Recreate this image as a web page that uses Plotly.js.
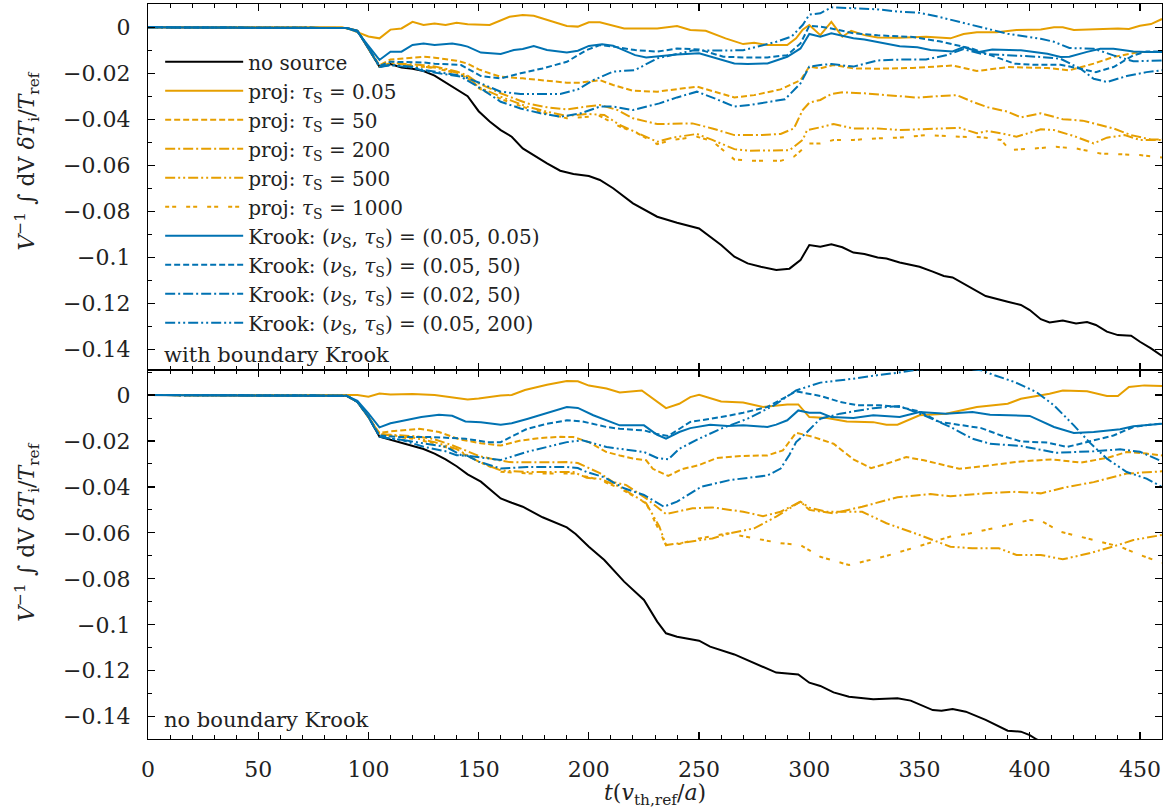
<!DOCTYPE html>
<html><head><meta charset="utf-8">
<script src="https://cdn.plot.ly/plotly-3.0.1.min.js"></script>
<style>html,body{margin:0;padding:0;background:#fff}#plot{width:1172px;height:812px}</style>
</head><body><div id="plot"></div>
<script>
// ---------- legend names ----------
const seriesNames = [
  "no source",
  "proj: <i>τ</i><sub>S</sub> = 0.05",
  "proj: <i>τ</i><sub>S</sub> = 50",
  "proj: <i>τ</i><sub>S</sub> = 200",
  "proj: <i>τ</i><sub>S</sub> = 500",
  "proj: <i>τ</i><sub>S</sub> = 1000",
  "Krook: (<i>ν</i><sub>S</sub>, <i>τ</i><sub>S</sub>) = (0.05, 0.05)",
  "Krook: (<i>ν</i><sub>S</sub>, <i>τ</i><sub>S</sub>) = (0.05, 50)",
  "Krook: (<i>ν</i><sub>S</sub>, <i>τ</i><sub>S</sub>) = (0.02, 50)",
  "Krook: (<i>ν</i><sub>S</sub>, <i>τ</i><sub>S</sub>) = (0.05, 200)"
];
const panelLabels = ["with boundary Krook", "no boundary Krook"];
const xTicks = [0, 50, 100, 150, 200, 250, 300, 350, 400, 450];

// ---------- TOP PANEL (with boundary Krook): [t, value] ----------
const noSourceTop = [[0,0],[85,0],[90,-0.0003],[95,-0.0015],[100,-0.009],[105,-0.0171],[110,-0.016],[115,-0.0175],[120,-0.018],[125,-0.019],[130,-0.021],[135,-0.024],[140,-0.027],[145,-0.030],[150,-0.0365],[155,-0.041],[160,-0.0447],[165,-0.0476],[170,-0.0527],[176,-0.0563],[181,-0.0592],[187,-0.0624],[193,-0.0638],[200,-0.0647],[205,-0.0664],[211,-0.070],[220,-0.0766],[231,-0.0824],[240,-0.085],[250,-0.0875],[260,-0.0947],[266,-0.0998],[272,-0.1027],[278,-0.1042],[285,-0.1056],[291,-0.105],[296,-0.1013],[300,-0.0947],[305,-0.0955],[310,-0.0944],[315,-0.0957],[320,-0.098],[325,-0.0986],[331,-0.1001],[335,-0.1006],[341,-0.1023],[350,-0.1042],[356,-0.1063],[361,-0.1082],[365,-0.1088],[374,-0.1136],[380,-0.1169],[390,-0.1194],[396,-0.1208],[400,-0.123],[405,-0.127],[409,-0.1284],[415,-0.1276],[421,-0.1288],[426,-0.1282],[430,-0.1295],[435,-0.1324],[440,-0.1339],[446,-0.1342],[450,-0.1368],[455,-0.1397],[460,-0.143]];
const proj005Top = [[0,0],[88,0],[92,-0.001],[95,-0.0022],[100,-0.004],[105,-0.0048],[110,-0.001],[115,-0.0005],[120,0.0024],[125,0.001],[130,0.0017],[135,0.001],[140,0.002],[145,0.0013],[150,0.0013],[155,0.001],[164,0.0046],[170,0.0054],[175,0.005],[181,0.0032],[190,0.0006],[195,0.0003],[200,0.0022],[205,0.0022],[216,-0.0005],[231,-0.0005],[240,0.0006],[246,-0.0012],[253,-0.0015],[262,-0.0048],[270,-0.0073],[275,-0.0067],[281,-0.0077],[290,-0.0077],[294,-0.0048],[297,-0.001],[300,0.001],[305,-0.0034],[310,0.0024],[315,-0.0041],[319,-0.0015],[325,-0.0034],[331,-0.0044],[341,-0.0045],[353,-0.0041],[364,-0.0048],[370,-0.0029],[376,-0.0022],[385,-0.0022],[394,-0.0012],[405,-0.0009],[411,0],[415,0],[420,-0.0012],[430,-0.0009],[440,-0.0005],[445,-0.0007],[450,0.0007],[455,0.0014],[460,0.0036]];
const proj50Top = [[0,0],[85,0],[90,-0.0003],[95,-0.0015],[100,-0.009],[105,-0.0165],[110,-0.014],[115,-0.0135],[120,-0.013],[125,-0.0128],[130,-0.0132],[135,-0.0137],[140,-0.0145],[145,-0.0158],[150,-0.0183],[155,-0.02],[160,-0.0215],[170,-0.0222],[180,-0.023],[190,-0.0241],[196,-0.0241],[205,-0.023],[211,-0.0251],[220,-0.0276],[231,-0.028],[240,-0.027],[249,-0.0258],[257,-0.028],[266,-0.0305],[275,-0.0295],[287,-0.027],[296,-0.023],[300,-0.0171],[305,-0.0179],[311,-0.0164],[320,-0.0179],[332,-0.018],[347,-0.0177],[365,-0.0166],[376,-0.019],[390,-0.0173],[408,-0.0177],[418,-0.0187],[429,-0.0158],[438,-0.0129],[450,-0.0107],[460,-0.0107]];
const proj200Top = [[0,0],[85,0],[90,-0.0003],[95,-0.0015],[100,-0.009],[105,-0.0172],[110,-0.0155],[115,-0.0158],[120,-0.016],[125,-0.0165],[130,-0.017],[135,-0.018],[140,-0.0192],[145,-0.021],[150,-0.0244],[160,-0.0287],[172,-0.0331],[181,-0.0348],[190,-0.0357],[199,-0.0345],[205,-0.0338],[213,-0.036],[220,-0.0396],[231,-0.0421],[240,-0.0421],[247,-0.0418],[256,-0.044],[266,-0.0469],[278,-0.0469],[287,-0.0464],[293,-0.044],[297,-0.036],[300,-0.0328],[305,-0.0316],[310,-0.029],[315,-0.0283],[325,-0.0287],[335,-0.0295],[349,-0.0306],[359,-0.0299],[367,-0.0295],[374,-0.0324],[381,-0.0348],[390,-0.0367],[396,-0.0392],[405,-0.0374],[415,-0.04],[424,-0.0406],[432,-0.0425],[438,-0.044],[446,-0.0469],[455,-0.0488],[460,-0.0488]];
const proj500Top = [[0,0],[85,0],[90,-0.0003],[95,-0.0015],[100,-0.009],[105,-0.0172],[110,-0.016],[115,-0.0165],[120,-0.0168],[125,-0.017],[130,-0.0175],[135,-0.0185],[140,-0.0198],[145,-0.0215],[150,-0.026],[160,-0.0302],[172,-0.0345],[181,-0.0367],[190,-0.0386],[199,-0.0377],[207,-0.0381],[214,-0.0425],[222,-0.0461],[231,-0.0498],[238,-0.048],[249,-0.0464],[256,-0.049],[266,-0.053],[273,-0.0537],[287,-0.0537],[291,-0.0535],[297,-0.049],[299,-0.0447],[305,-0.0435],[311,-0.0421],[320,-0.044],[331,-0.044],[341,-0.0447],[353,-0.0444],[368,-0.0437],[376,-0.0461],[381,-0.0451],[387,-0.0461],[394,-0.0476],[405,-0.0444],[411,-0.0447],[420,-0.0473],[429,-0.0505],[435,-0.048],[443,-0.0469],[450,-0.049],[460,-0.049]];
const proj1000Top = [[0,0],[85,0],[90,-0.0003],[95,-0.0015],[100,-0.009],[105,-0.0172],[110,-0.0158],[115,-0.016],[120,-0.0165],[125,-0.017],[130,-0.0178],[135,-0.0188],[140,-0.02],[145,-0.022],[150,-0.0265],[160,-0.0312],[172,-0.0352],[181,-0.0375],[190,-0.0396],[205,-0.0386],[214,-0.0432],[222,-0.0461],[231,-0.0508],[238,-0.049],[249,-0.0476],[256,-0.0495],[266,-0.0575],[275,-0.0581],[287,-0.0581],[293,-0.0563],[300,-0.0505],[305,-0.0505],[311,-0.049],[320,-0.049],[331,-0.0483],[341,-0.048],[353,-0.0469],[368,-0.0476],[378,-0.0478],[387,-0.049],[391,-0.0534],[402,-0.0527],[412,-0.052],[421,-0.0527],[432,-0.0549],[440,-0.0552],[450,-0.0556],[460,-0.0566]];
const krookA_Top = [[0,0],[85,0],[90,-0.0003],[95,-0.002],[100,-0.008],[105,-0.0142],[110,-0.0106],[115,-0.0106],[120,-0.0077],[125,-0.007],[130,-0.0077],[138,-0.007],[142,-0.0077],[145,-0.0084],[151,-0.011],[160,-0.0116],[166,-0.0099],[170,-0.0094],[175,-0.0081],[181,-0.0099],[190,-0.011],[195,-0.0102],[200,-0.0081],[206,-0.0074],[211,-0.008],[221,-0.0121],[226,-0.0131],[232,-0.0125],[240,-0.0118],[250,-0.0113],[257,-0.0131],[266,-0.0157],[272,-0.016],[281,-0.0157],[290,-0.0128],[296,-0.0092],[300,-0.0029],[305,-0.0041],[310,-0.0026],[315,-0.0037],[320,-0.0048],[325,-0.0053],[331,-0.0063],[341,-0.0082],[349,-0.0087],[355,-0.0099],[365,-0.0105],[370,-0.0086],[377,-0.0107],[383,-0.0097],[396,-0.01],[408,-0.0115],[414,-0.0129],[418,-0.0128],[426,-0.0107],[432,-0.0093],[438,-0.0093],[447,-0.0105],[453,-0.0107],[460,-0.0107]];
const krookB_Top = [[0,0],[85,0],[90,-0.0003],[95,-0.0015],[100,-0.009],[105,-0.0168],[110,-0.015],[115,-0.015],[120,-0.015],[125,-0.0153],[130,-0.0158],[135,-0.016],[142,-0.0164],[151,-0.0212],[160,-0.0222],[169,-0.02],[179,-0.0179],[190,-0.015],[199,-0.0099],[205,-0.0077],[211,-0.0084],[221,-0.0099],[231,-0.0106],[240,-0.0092],[250,-0.0096],[261,-0.0128],[270,-0.0131],[281,-0.0131],[290,-0.0121],[296,-0.007],[300,0.0006],[305,0.0003],[310,-0.0005],[320,-0.0026],[331,-0.0035],[347,-0.0042],[359,-0.0061],[374,-0.0093],[382,-0.0119],[393,-0.0158],[402,-0.0163],[414,-0.0163],[423,-0.018],[430,-0.0195],[438,-0.0173],[447,-0.0122],[453,-0.0105],[460,-0.0105]];
const krookC_Top = [[0,0],[85,0],[90,-0.0003],[95,-0.0015],[100,-0.009],[105,-0.0172],[110,-0.0165],[115,-0.017],[120,-0.0175],[125,-0.019],[130,-0.0198],[135,-0.0205],[142,-0.0215],[151,-0.0266],[160,-0.0324],[169,-0.0353],[178,-0.0374],[187,-0.0389],[196,-0.0375],[205,-0.0345],[211,-0.0345],[220,-0.036],[232,-0.0331],[240,-0.0305],[249,-0.028],[257,-0.0309],[266,-0.0345],[273,-0.0338],[281,-0.0324],[289,-0.0313],[296,-0.0244],[300,-0.0171],[305,-0.0164],[310,-0.016],[320,-0.0171],[331,-0.0144],[342,-0.014],[353,-0.014],[362,-0.0122],[370,-0.0095],[378,-0.0115],[393,-0.0122],[405,-0.0129],[414,-0.0137],[423,-0.018],[429,-0.0224],[435,-0.0238],[444,-0.0212],[453,-0.0195],[460,-0.0187]];
const krookD_Top = [[0,0],[85,0],[90,-0.0003],[95,-0.0015],[100,-0.009],[105,-0.0172],[110,-0.0163],[115,-0.0168],[120,-0.0172],[125,-0.0185],[130,-0.0192],[135,-0.02],[142,-0.021],[150,-0.024],[160,-0.028],[169,-0.029],[178,-0.029],[187,-0.029],[195,-0.027],[202,-0.023],[211,-0.0193],[221,-0.0186],[231,-0.0135],[240,-0.0115],[247,-0.0101],[260,-0.0101],[270,-0.01],[285,-0.0063],[292,-0.004],[297,0.001],[300,0.0055],[305,0.0061],[310,0.0087],[320,0.0083],[331,0.0078],[341,0.0068],[350,0.0063],[359,0.0045],[374,0.0009],[390,-0.0028],[405,-0.005],[411,-0.0063],[418,-0.009],[429,-0.0093],[438,-0.0122],[447,-0.0148],[460,-0.0144]];

// ---------- BOTTOM PANEL (no boundary Krook): [t, value] ----------
const noSourceBot = [[0,0],[85,0],[90,-0.0003],[95,-0.003],[100,-0.0095],[105,-0.0181],[110,-0.0195],[115,-0.0207],[120,-0.022],[125,-0.0235],[130,-0.0255],[135,-0.028],[140,-0.031],[145,-0.0345],[151,-0.0377],[160,-0.045],[165,-0.0469],[170,-0.0486],[179,-0.0532],[185,-0.0555],[190,-0.0576],[194,-0.0605],[200,-0.066],[207,-0.0718],[216,-0.0812],[225,-0.0892],[231,-0.0986],[235,-0.1037],[240,-0.1052],[250,-0.1069],[255,-0.1095],[266,-0.1129],[275,-0.1168],[281,-0.1194],[285,-0.1208],[295,-0.1216],[300,-0.1252],[305,-0.1266],[311,-0.1294],[318,-0.1313],[329,-0.1324],[340,-0.132],[346,-0.133],[356,-0.1371],[360,-0.1374],[365,-0.1366],[371,-0.1378],[380,-0.1414],[386,-0.1443],[390,-0.1461],[396,-0.1465],[400,-0.148],[403,-0.1498],[407,-0.152]];
const proj005Bot = [[0,0],[95,0],[100,-0.0007],[105,0.0007],[110,0.0002],[120,0.0004],[130,0],[140,-0.0012],[145,-0.0019],[150,-0.0015],[160,-0.0002],[165,0],[171,0.0022],[181,0.0045],[190,0.0061],[195,0.006],[200,0.0041],[208,0.0028],[214,0.0011],[224,0.002],[231,-0.003],[235,-0.0057],[241,-0.0038],[246,-0.0009],[250,0.0001],[260,-0.0028],[270,-0.0033],[279,-0.0052],[290,-0.0041],[295,-0.0041],[300,-0.0096],[308,-0.01],[317,-0.0115],[329,-0.0118],[335,-0.0129],[340,-0.0129],[350,-0.0088],[362,-0.0081],[376,-0.0052],[390,-0.0038],[396,-0.0016],[409,0.0006],[415,0.002],[426,0.0016],[435,-0.0004],[440,-0.0004],[445,0.0035],[452,0.0042],[460,0.0039]];
const proj50Bot = [[0,0],[85,0],[90,-0.0003],[95,-0.003],[100,-0.0095],[105,-0.0165],[110,-0.0158],[114,-0.0154],[123,-0.0147],[132,-0.0161],[141,-0.0192],[151,-0.021],[160,-0.022],[169,-0.0198],[178,-0.0187],[187,-0.0182],[193,-0.0183],[200,-0.0205],[208,-0.0248],[214,-0.0263],[220,-0.0276],[226,-0.0284],[229,-0.0321],[236,-0.0352],[242,-0.0323],[250,-0.0305],[258,-0.0274],[270,-0.0265],[281,-0.0263],[288,-0.0241],[294,-0.0164],[302,-0.0183],[311,-0.0212],[320,-0.028],[328,-0.0318],[335,-0.0299],[344,-0.027],[352,-0.0284],[368,-0.0321],[382,-0.0306],[396,-0.0289],[410,-0.028],[423,-0.0294],[435,-0.0274],[444,-0.0248],[453,-0.0255],[460,-0.0263]];
const proj200Bot = [[0,0],[85,0],[90,-0.0003],[95,-0.003],[100,-0.0095],[105,-0.017],[110,-0.0172],[114,-0.0175],[122,-0.018],[129,-0.019],[137,-0.0215],[144,-0.0241],[150,-0.0265],[157,-0.028],[164,-0.0292],[172,-0.0293],[181,-0.0292],[190,-0.0292],[195,-0.0296],[205,-0.034],[211,-0.0379],[217,-0.0392],[226,-0.045],[235,-0.0518],[247,-0.0493],[256,-0.0489],[270,-0.0508],[279,-0.0527],[287,-0.0508],[296,-0.0464],[300,-0.05],[311,-0.0515],[324,-0.0486],[340,-0.0445],[355,-0.0431],[364,-0.044],[380,-0.0428],[394,-0.0421],[405,-0.0428],[417,-0.04],[429,-0.0379],[444,-0.0342],[460,-0.0332]];
const proj500Bot = [[0,0],[85,0],[90,-0.0003],[95,-0.003],[100,-0.0095],[105,-0.017],[110,-0.0175],[120,-0.0185],[130,-0.0205],[140,-0.0235],[150,-0.029],[160,-0.0328],[172,-0.0335],[184,-0.0335],[193,-0.0335],[199,-0.036],[205,-0.0365],[214,-0.0399],[226,-0.0471],[232,-0.0573],[235,-0.0653],[241,-0.0645],[256,-0.0624],[264,-0.0602],[275,-0.058],[285,-0.0529],[296,-0.0464],[300,-0.049],[308,-0.0508],[324,-0.0508],[335,-0.0558],[350,-0.0609],[364,-0.066],[374,-0.0667],[386,-0.0667],[394,-0.0696],[405,-0.0696],[415,-0.0715],[427,-0.0689],[440,-0.0653],[447,-0.0631],[460,-0.0609]];
const proj1000Bot = [[0,0],[85,0],[90,-0.0003],[95,-0.003],[100,-0.0095],[105,-0.017],[110,-0.0178],[120,-0.019],[130,-0.021],[140,-0.0243],[150,-0.029],[160,-0.0334],[172,-0.0341],[193,-0.0341],[205,-0.037],[214,-0.0406],[226,-0.0471],[232,-0.0588],[235,-0.0653],[241,-0.0648],[250,-0.0624],[263,-0.0602],[275,-0.0624],[287,-0.0645],[296,-0.0653],[305,-0.0704],[318,-0.074],[334,-0.0703],[349,-0.066],[364,-0.0616],[373,-0.0602],[386,-0.0573],[400,-0.0544],[405,-0.0547],[414,-0.0595],[426,-0.0624],[441,-0.066],[450,-0.0696],[458,-0.0725],[460,-0.073]];
const krookA_Bot = [[0,0],[85,0],[90,-0.0003],[95,-0.0025],[100,-0.008],[105,-0.0141],[110,-0.0123],[114,-0.0115],[120,-0.0102],[124,-0.0096],[132,-0.0086],[138,-0.009],[144,-0.0115],[151,-0.0118],[160,-0.0129],[165,-0.0123],[172,-0.0104],[181,-0.0077],[190,-0.0052],[195,-0.0056],[202,-0.0088],[214,-0.0132],[225,-0.0132],[231,-0.0173],[235,-0.019],[241,-0.0161],[246,-0.0144],[255,-0.0129],[263,-0.0135],[270,-0.0132],[281,-0.0139],[285,-0.0129],[290,-0.011],[295,-0.0067],[300,-0.0077],[305,-0.0077],[310,-0.0096],[320,-0.01],[329,-0.0088],[341,-0.0096],[350,-0.0074],[362,-0.0081],[374,-0.0074],[382,-0.0086],[400,-0.0091],[411,-0.0139],[420,-0.0165],[429,-0.0161],[441,-0.0149],[447,-0.0136],[453,-0.0132],[460,-0.0125]];
const krookB_Bot = [[0,0],[85,0],[90,-0.0003],[95,-0.003],[100,-0.0095],[105,-0.0176],[110,-0.018],[114,-0.0183],[129,-0.0183],[144,-0.019],[154,-0.0205],[160,-0.0205],[166,-0.0176],[172,-0.0147],[181,-0.0125],[190,-0.011],[197,-0.0115],[208,-0.0139],[214,-0.0147],[225,-0.0154],[231,-0.017],[236,-0.0178],[246,-0.0117],[260,-0.0096],[270,-0.0077],[281,-0.0052],[294,0.0016],[305,-0.0004],[314,-0.003],[322,-0.0045],[332,-0.0045],[341,-0.0052],[350,-0.0071],[359,-0.0117],[378,-0.0144],[387,-0.0176],[396,-0.0202],[408,-0.0207],[417,-0.0226],[423,-0.0212],[438,-0.0176],[447,-0.0139],[456,-0.0127],[460,-0.0125]];
const krookC_Bot = [[0,0],[85,0],[90,-0.0003],[95,-0.003],[100,-0.0095],[105,-0.0181],[110,-0.019],[115,-0.0195],[125,-0.0225],[135,-0.0245],[140,-0.0262],[145,-0.0265],[150,-0.029],[160,-0.032],[172,-0.0313],[181,-0.0313],[190,-0.0313],[195,-0.0318],[199,-0.0335],[207,-0.0358],[216,-0.0406],[225,-0.0435],[234,-0.0486],[240,-0.0464],[251,-0.0399],[264,-0.037],[281,-0.035],[287,-0.032],[291,-0.026],[294,-0.0205],[299,-0.0161],[305,-0.0103],[314,-0.0081],[329,-0.0057],[341,-0.0048],[352,-0.0088],[364,-0.0139],[374,-0.019],[382,-0.0212],[396,-0.0222],[412,-0.0251],[429,-0.0245],[441,-0.0236],[450,-0.0247],[460,-0.0289]];
const krookD_Bot = [[0,0],[85,0],[90,-0.0003],[95,-0.003],[100,-0.0095],[105,-0.018],[110,-0.019],[115,-0.0195],[125,-0.021],[135,-0.0225],[142,-0.0261],[151,-0.0271],[160,-0.0283],[172,-0.0247],[182,-0.0225],[190,-0.0205],[197,-0.0197],[208,-0.0226],[214,-0.0234],[225,-0.0248],[231,-0.0274],[236,-0.028],[241,-0.0234],[250,-0.019],[260,-0.0146],[272,-0.0103],[284,-0.0045],[294,0.002],[305,0.0054],[320,0.0071],[332,0.0088],[340,0.0097],[350,0.0112],[365,0.012],[378,0.0108],[384,0.0086],[393,0.0057],[403,0.0013],[411,-0.0045],[420,-0.0132],[427,-0.0205],[435,-0.0277],[444,-0.0335],[453,-0.0364],[460,-0.04]];

const topSeries = [noSourceTop, proj005Top, proj50Top, proj200Top, proj500Top, proj1000Top, krookA_Top, krookB_Top, krookC_Top, krookD_Top];
const botSeries = [noSourceBot, proj005Bot, proj50Bot, proj200Bot, proj500Bot, proj1000Bot, krookA_Bot, krookB_Bot, krookC_Bot, krookD_Bot];

// ---------- styles ----------
const BLACK = "#000000", ORANGE = "#E69F00", BLUE = "#0072B2";
const colors = [BLACK, ORANGE, ORANGE, ORANGE, ORANGE, ORANGE, BLUE, BLUE, BLUE, BLUE];
const DASHED = "6px,3px", DASHDOT = "10px,3px,2px,3px", DASHDOTDOT = "10px,3px,2px,3px,2px,3px", LOOSE = "4px,3px,4px,10px";
const dashes = ["solid", "solid", DASHED, DASHDOT, DASHDOTDOT, LOOSE, "solid", DASHED, DASHDOT, DASHDOTDOT];

const FONT = "DejaVu Serif";
const traces = [];
function addPanel(series, xa, ya, legend) {
  series.forEach((s, i) => {
    traces.push({
      type: "scatter", mode: "lines",
      x: s.map(p => p[0]), y: s.map(p => p[1]),
      xaxis: xa, yaxis: ya,
      name: seriesNames[i], legendgroup: "g" + i, showlegend: legend,
      line: {color: colors[i], width: 2, dash: dashes[i]},
      hoverinfo: "skip"
    });
  });
}
addPanel(topSeries, "x", "y", true);
addPanel(botSeries, "x2", "y2", false);

const split = 0.502;
const xBase = {
  range: [0, 460], tickvals: xTicks, ticks: "inside", ticklen: 7, tickwidth: 1.2, tickcolor: "#000",
  showline: true, linecolor: "#000", linewidth: 1.2, mirror: "allticks", showgrid: false, zeroline: false,
  minor: {dtick: 10, tick0: 0, ticks: "inside", ticklen: 4, tickcolor: "#000", tickwidth: 1, showgrid: false},
  tickfont: {family: FONT, size: 22, color: "#222"}
};
const yBase = {
  dtick: 0.02, tick0: 0, ticks: "inside", ticklen: 7, tickwidth: 1.2, tickcolor: "#000",
  showline: true, linecolor: "#000", linewidth: 1.2, mirror: "allticks", showgrid: false, zeroline: false,
  minor: {dtick: 0.01, tick0: 0, ticks: "inside", ticklen: 4, tickcolor: "#000", tickwidth: 1, showgrid: false},
  tickfont: {family: FONT, size: 22, color: "#222"}, ticklabelstandoff: 12
};
const ytitle = "<i>V</i><sup>−1</sup> ∫ dV <i>δT</i><sub>i</sub>/<i>T</i><sub>ref</sub>";

const layout = {
  width: 1172, height: 812,
  margin: {l: 148, r: 10, t: 4, b: 73},
  paper_bgcolor: "#fff", plot_bgcolor: "#fff",
  font: {family: FONT, color: "#222"},
  showlegend: true,
  legend: {x: 0.012, y: 0.948, xanchor: "left", yanchor: "top", bgcolor: "rgba(0,0,0,0)",
           font: {family: FONT, size: 20, color: "#222"}, itemwidth: 78, tracegroupgap: 0},
  xaxis: Object.assign({}, xBase, {domain: [0, 1], anchor: "y", showticklabels: false}),
  yaxis: Object.assign({}, yBase, {domain: [split, 1], anchor: "x", range: [-0.1491, 0.01014]}),
  xaxis2: Object.assign({}, xBase, {domain: [0, 1], anchor: "y2", matches: "x", ticklabelstandoff: 10}),
  yaxis2: Object.assign({}, yBase, {domain: [0, split], anchor: "x2", range: [-0.1497, 0.01088]}),
  annotations: [
    {xref: "paper", yref: "paper", x: 0.014, y: 0.522, xanchor: "left", yanchor: "middle", showarrow: false,
     text: panelLabels[0], font: {family: FONT, size: 21, color: "#222"}},
    {xref: "paper", yref: "paper", x: 0.014, y: 0.0259, xanchor: "left", yanchor: "middle", showarrow: false,
     text: panelLabels[1], font: {family: FONT, size: 21, color: "#222"}},
    {xref: "paper", yref: "paper", x: -0.119, y: 0.786, xanchor: "center", yanchor: "middle", showarrow: false,
     textangle: -90, text: ytitle, font: {family: FONT, size: 22, color: "#222"}},
    {xref: "paper", yref: "paper", x: -0.119, y: 0.281, xanchor: "center", yanchor: "middle", showarrow: false,
     textangle: -90, text: ytitle, font: {family: FONT, size: 22, color: "#222"}},
    {xref: "paper", yref: "paper", x: 0.5, y: -0.076, xanchor: "center", yanchor: "middle", showarrow: false,
     text: "<i>t</i>(<i>v</i><sub>th,ref</sub>/<i>a</i>)", font: {family: FONT, size: 22, color: "#222"}}
  ]
};

Plotly.newPlot("plot", traces, layout, {staticPlot: true, displayModeBar: false});
</script></body></html>
